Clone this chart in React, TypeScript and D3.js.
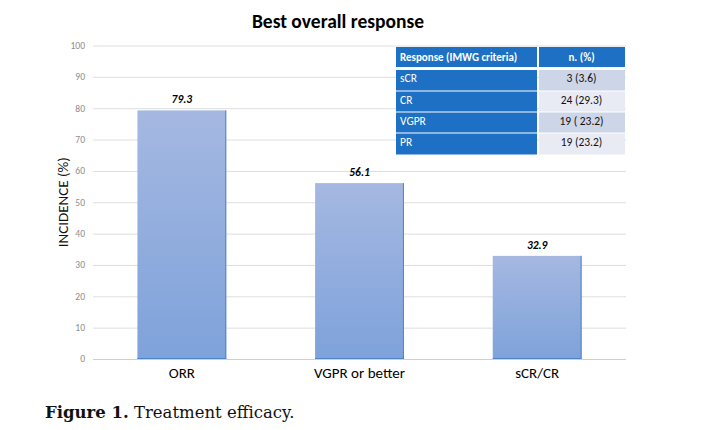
import React, { useEffect, useRef } from "react";
import * as d3 from "d3";

const categories = ["ORR", "VGPR or better", "sCR/CR"];
const incidence = [79.3, 56.1, 32.9];
const yTicks = [0, 10, 20, 30, 40, 50, 60, 70, 80, 90, 100];

const tableHeader = ["Response (IMWG criteria)", "n. (%)"];
const responses = ["sCR", "CR", "VGPR", "PR"];
const responseCounts = ["3 (3.6)", "24 (29.3)", "19 ( 23.2)", "19 (23.2)"];

const W = 723;
const H = 430;

const App = () => {
  const svgRef = useRef<SVGSVGElement | null>(null);

  useEffect(() => {
    if (!svgRef.current) return;
    const svg = d3.select(svgRef.current);
    svg.selectAll("*").remove();

    const font = "Calibri, Carlito, 'Open Sans', 'Noto Sans', sans-serif";
    const left = 93;
    const right = 626;
    const top = 45.5;
    const bottom = 359;

    const x = d3.scaleBand<string>().domain(categories).range([left, right]).paddingInner(0.5).paddingOuter(0.25);
    const y = d3.scaleLinear().domain([0, 100]).range([bottom, top]);

    const defs = svg.append("defs");
    const grad = defs
      .append("linearGradient")
      .attr("id", "barGrad")
      .attr("x1", 0)
      .attr("y1", 0)
      .attr("x2", 0)
      .attr("y2", 1);
    grad.append("stop").attr("offset", "0%").attr("stop-color", "#a5b8e1");
    grad.append("stop").attr("offset", "100%").attr("stop-color", "#7ea2db");

    // title
    svg
      .append("text")
      .attr("x", 338)
      .attr("y", 28)
      .attr("text-anchor", "middle")
      .style("font-family", font)
      .style("font-weight", "bold")
      .style("font-size", "19.5px")
      .text("Best overall response");

    // gridlines + ticks
    const grid = svg.append("g");
    grid
      .selectAll("line")
      .data(yTicks)
      .enter()
      .append("line")
      .attr("x1", left)
      .attr("x2", right)
      .attr("y1", (d) => y(d) + 0.5)
      .attr("y2", (d) => y(d) + 0.5)
      .attr("stroke", (d) => (d === 0 ? "#d0d0d0" : "#dedede"))
      .attr("stroke-width", 1);
    grid
      .selectAll("text")
      .data(yTicks)
      .enter()
      .append("text")
      .attr("x", 85)
      .attr("y", (d) => y(d))
      .attr("dy", "0.35em")
      .attr("text-anchor", "end")
      .style("font-family", font)
      .style("font-size", "9.5px")
      .style("fill", "#8c8c8c")
      .text((d) => d);

    // y label
    svg
      .append("text")
      .attr("transform", `translate(68, ${(top + bottom) / 2}) rotate(-90)`)
      .attr("text-anchor", "middle")
      .style("font-family", font)
      .style("font-size", "15px")
      .style("fill", "#111")
      .text("INCIDENCE (%)");

    // bars
    const bars = svg.append("g");
    categories.forEach((c, i) => {
      const bx = x(c)!;
      const bw = x.bandwidth();
      const by = y(incidence[i]);
      bars
        .append("rect")
        .attr("x", bx)
        .attr("y", by)
        .attr("width", bw)
        .attr("height", bottom - by)
        .attr("fill", "url(#barGrad)");
      bars
        .append("line")
        .attr("x1", bx + bw - 0.5)
        .attr("x2", bx + bw - 0.5)
        .attr("y1", by)
        .attr("y2", bottom)
        .attr("stroke", "#4f83cc")
        .attr("stroke-width", 1);
      bars
        .append("line")
        .attr("x1", bx)
        .attr("x2", bx + bw)
        .attr("y1", bottom - 0.5)
        .attr("y2", bottom - 0.5)
        .attr("stroke", "#4f83cc")
        .attr("stroke-width", 1);
      bars
        .append("text")
        .attr("x", bx + bw / 2)
        .attr("y", by - 7)
        .attr("text-anchor", "middle")
        .style("font-family", font)
        .style("font-weight", "bold")
        .style("font-style", "italic")
        .style("font-size", "11.5px")
        .text(incidence[i].toFixed(1));
      bars
        .append("text")
        .attr("x", bx + bw / 2)
        .attr("y", 378)
        .attr("text-anchor", "middle")
        .style("font-family", font)
        .style("font-size", "15px")
        .text(c);
    });

    // table
    const tx = 396;
    const tSplit = 538;
    const tEnd = 625;
    const rowY = [47, 70, 91.5, 112.5, 133.5];
    const rowH = [20, 20.5, 20, 20, 21];
    const blue = "#1d70c4";
    const table = svg.append("g");
    const rows = [tableHeader, ...responses.map((r, i) => [r, responseCounts[i]])];
    rows.forEach((row, i) => {
      const ry = rowY[i];
      const rh = rowH[i];
      table
        .append("rect")
        .attr("x", tx)
        .attr("y", ry)
        .attr("width", tSplit - tx - 1)
        .attr("height", rh)
        .attr("fill", blue);
      table
        .append("rect")
        .attr("x", tSplit + 1)
        .attr("y", ry)
        .attr("width", tEnd - tSplit - 1)
        .attr("height", rh)
        .attr("fill", i === 0 ? blue : i % 2 === 1 ? "#cdd5e8" : "#e8ebf4");
      table
        .append("text")
        .attr("x", tx + 4)
        .attr("y", ry + (i === 0 ? 13.5 : 12))
        .style("font-family", font)
        .style("font-size", i === 0 ? "11px" : "11.5px")
        .style("font-weight", i === 0 ? "bold" : "normal")
        .style("fill", "#fff")
        .text(row[0]);
      table
        .append("text")
        .attr("x", (tSplit + tEnd) / 2)
        .attr("y", ry + (i === 0 ? 13.5 : 12))
        .attr("text-anchor", "middle")
        .style("font-family", font)
        .style("font-size", i === 0 ? "11px" : "11.5px")
        .style("font-weight", i === 0 ? "bold" : "normal")
        .style("fill", i === 0 ? "#fff" : "#111")
        .text(row[1]);
    });

    // caption
    const cap = svg
      .append("text")
      .attr("x", 45)
      .attr("y", 418)
      .style("font-family", "'DejaVu Serif', 'Liberation Serif', serif")
      .style("font-size", "16.5px")
      .style("fill", "#111");
    cap.append("tspan").style("font-weight", "bold").text("Figure 1.");
    cap.append("tspan").text(" Treatment efficacy.");
  }, []);

  return (
    <div style={{ position: "absolute", left: 0, top: 0 }}>
      <svg ref={svgRef} width={W} height={H} style={{ display: "block", background: "#fff" }} />
    </div>
  );
};

export default App;
